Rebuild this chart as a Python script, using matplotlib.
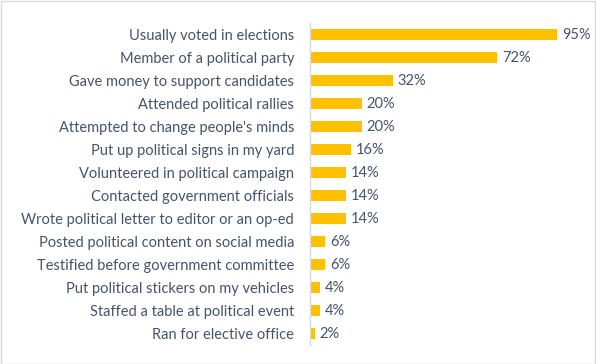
import matplotlib.pyplot as plt
from matplotlib.patches import Rectangle

categories = [
    "Usually voted in elections",
    "Member of a political party",
    "Gave money to support candidates",
    "Attended political rallies",
    "Attempted to change people's minds",
    "Put up political signs in my yard",
    "Volunteered in political campaign",
    "Contacted government officials",
    "Wrote political letter to editor or an op-ed",
    "Posted political content on social media",
    "Testified before government committee",
    "Put political stickers on my vehicles",
    "Staffed a table at political event",
    "Ran for elective office",
]
values = [95, 72, 32, 20, 20, 16, 14, 14, 14, 6, 6, 4, 4, 2]

text_color = "#44546A"
bar_color = "#FFC000"

plt.rcParams['font.family'] = ['Lato', 'DejaVu Sans']

W, H = 596, 364
fig = plt.figure(figsize=(W / 100, H / 100), dpi=100)
ax = fig.add_axes([309.5 / W, (H - 345) / H, (570 - 309.5) / W, 322 / H])

n = len(categories)
ypos = list(range(n))
ax.barh(ypos, values, height=0.455, color=bar_color)
ax.set_xlim(0, 100)
ax.set_ylim(n - 0.5, -0.5)
ax.set_yticks(ypos)
ax.set_yticklabels(categories, color=text_color, fontsize=10.5)
ax.tick_params(axis='y', length=0, pad=11)
ax.set_xticks([])
for s in ['top', 'right', 'bottom']:
    ax.spines[s].set_visible(False)
ax.spines['left'].set_color('#D9D9D9')
ax.spines['left'].set_linewidth(1)

for y, v in zip(ypos, values):
    ax.annotate(f"{v}%", xy=(v, y), xytext=(3.5, 0), textcoords='offset points',
                va='center', ha='left', color=text_color, fontsize=10.5)

fig.patches.append(Rectangle((0.5 / W, 0.5 / H), 1 - 1.5 / W, 1 - 1.5 / H,
                             transform=fig.transFigure, fill=False,
                             edgecolor='#D9D9D9', linewidth=1))

fig.savefig("out.png", dpi=100)
